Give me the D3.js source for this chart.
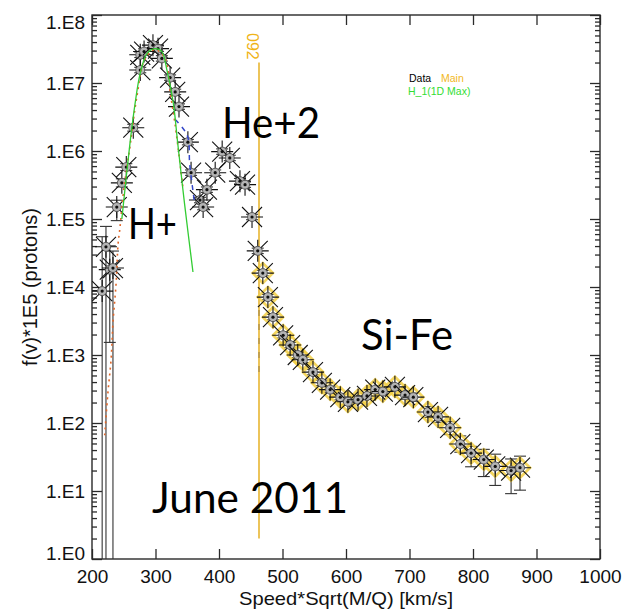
<!DOCTYPE html>
<html>
<head>
<meta charset="utf-8">
<script src="https://cdn.jsdelivr.net/npm/d3@7.9.0/dist/d3.min.js"></script>
<style>
  body { margin: 0; background: #fff; }
  svg { display: block; }
</style>
</head>
<body>
<svg id="chart" width="624" height="613"></svg>
<script>
// measured points: speed*sqrt(M/Q) [km/s] and f(v)*1E5
const speed = [216, 222, 228, 233, 239, 247, 254, 265, 276, 276, 282, 296, 304, 310, 323, 331,
  337, 351, 356, 370, 375, 381, 394, 405, 417, 433, 441, 452, 461, 469, 477, 485,
  501, 512, 524, 532, 548, 562, 575, 591, 603, 619, 633, 646, 658, 677, 693, 706,
  729, 745, 764, 780, 797, 817, 835, 860, 874];
const flux = [8.7e3, 3.9e4, 1.8e4, 1.9e4, 1.5e5, 3.4e5, 5.8e5, 2.2e6, 1.55e7, 2.6e7, 2.9e7, 3.6e7,
  3.2e7, 2.3e7, 1.2e7, 7.4e6, 4.5e6, 1.35e6, 4.8e5, 1.9e5, 1.5e5, 2.7e5, 4.8e5, 9.8e5,
  7.9e5, 3.6e5, 3.2e5, 1.07e5, 3.4e4, 1.6e4, 7.1e3, 3.6e3, 1950, 1400, 1000, 850,
  560, 390, 310, 240, 205, 220, 250, 310, 290, 340, 257, 240,
  145, 123, 85, 49, 36, 29, 23, 20, 22];
// error bar half widths, in decades
const errUp = [0.8, 0.3, 0.35, 0.25, 0.1, 0.06, 0.05, 0.05,
  0.04, 0.04, 0.04, 0.04, 0.04, 0.04, 0.04, 0.04, 0.04, 0.04, 0.04, 0.04,
  0.04, 0.04, 0.04, 0.04, 0.04, 0.04, 0.04, 0.04, 0.04, 0.04, 0.04, 0.04,
  0.04, 0.04, 0.04, 0.04, 0.04, 0.04, 0.04, 0.04, 0.04, 0.04, 0.04, 0.04,
  0.04, 0.04, 0.06, 0.06, 0.08, 0.08, 0.09, 0.12, 0.1, 0.15, 0.18, 0.17, 0.17];
const errDown = [9, 9, 1.07, 9, 0.2, 0.06, 0.05, 0.05,
  0.04, 0.04, 0.04, 0.04, 0.04, 0.04, 0.04, 0.04, 0.04, 0.04, 0.04, 0.04,
  0.04, 0.04, 0.04, 0.04, 0.04, 0.04, 0.04, 0.04, 0.04, 0.04, 0.04, 0.04,
  0.04, 0.04, 0.04, 0.04, 0.04, 0.04, 0.04, 0.04, 0.04, 0.04, 0.04, 0.04,
  0.04, 0.04, 0.06, 0.06, 0.08, 0.08, 0.1, 0.12, 0.2, 0.25, 0.28, 0.34, 0.33];
const mainSpeedMin = 465;

// H_1 (1D Max) fit, green
const fitSpeed = [247, 260, 268, 276, 287, 299, 310, 318, 328, 335, 346, 359];
const fitFlux = [1.0e5, 1.35e6, 5.1e6, 1.4e7, 2.75e7, 3.2e7, 2.9e7, 1.55e7, 5.1e6, 1.3e6, 1.6e5, 1.66e4];
// orange dotted model
const modelSpeed = [220, 225, 230, 233, 238, 241, 244, 250, 260, 271, 283, 299, 315, 323, 331, 343];
const modelFlux = [66, 275, 850, 2950, 1.15e4, 4.2e4, 7.4e4, 2.7e5, 1.2e6, 6.6e6, 2.2e7, 3.1e7, 2.3e7, 7.4e6, 2.4e6, 3.0e5];
// blue dashed segment on the falling side
const blueSpeed = [331, 350, 354, 362];
const blueFlux = [2.9e6, 1.7e6, 6.2e5, 1.6e5];

// vertical marker line
const lineSpeed = 463;
const lineTop = 2.0e7, lineBottom = 2.0;
const lineLabel = "092";
const darkTop = 4.6e3, darkBottom = 4.8e2;

const xTicks = [200, 300, 400, 500, 600, 700, 800, 900, 1000];
const yTicks = [1, 1e1, 1e2, 1e3, 1e4, 1e5, 1e6, 1e7, 1e8];
const yTickLabels = ["1.E0", "1.E1", "1.E2", "1.E3", "1.E4", "1.E5", "1.E6", "1.E7", "1.E8"];

const svg = d3.select("#chart");
const pLeft = 92, pRight = 600, pTop = 15, pBottom = 559;
const x = d3.scaleLinear().domain([200, 1000]).range([pLeft, pRight]);
const y = d3.scaleLog().domain([1, 1e8]).range([pBottom, pTop]);
const axisFont = "'Liberation Sans', Arial, sans-serif";

svg.append("defs").append("clipPath").attr("id", "plot")
  .append("rect").attr("x", pLeft).attr("y", pTop).attr("width", pRight - pLeft).attr("height", pBottom - pTop);

// minor tick values for log axis
let minor = [];
yTicks.slice(0, -1).forEach(d => { for (let k = 2; k < 10; k++) minor.push(d * k); });

function styleAxis(g) {
  g.select(".domain").remove();
  g.selectAll("line").attr("stroke", "#2a2a2a").attr("stroke-width", 1.3);
  g.selectAll("text").attr("font-family", axisFont).attr("font-size", 19).attr("fill", "#111");
}

svg.append("g").attr("transform", `translate(0,${pBottom})`)
  .call(d3.axisBottom(x).tickValues(xTicks).tickFormat(d3.format("d")).tickSize(-10).tickSizeOuter(0).tickPadding(11))
  .call(styleAxis);
svg.append("g").attr("transform", `translate(0,${pTop})`)
  .call(d3.axisTop(x).tickValues(xTicks).tickFormat("").tickSize(-10).tickSizeOuter(0))
  .call(styleAxis);

const yl = svg.append("g").attr("transform", `translate(${pLeft},0)`)
  .call(d3.axisLeft(y).tickValues(yTicks).tickFormat((d, i) => yTickLabels[i]).tickSize(-10).tickSizeOuter(0).tickPadding(7))
  .call(styleAxis);
yl.selectAll("text").filter(d => d === 1e8).attr("dy", "0.72em");
yl.selectAll("text").filter(d => d === 1).attr("dy", "0em");
svg.append("g").attr("transform", `translate(${pLeft},0)`)
  .call(d3.axisLeft(y).tickValues(minor).tickFormat("").tickSize(-5).tickSizeOuter(0))
  .call(styleAxis);
svg.append("g").attr("transform", `translate(${pRight},0)`)
  .call(d3.axisRight(y).tickValues(yTicks).tickFormat("").tickSize(-10).tickSizeOuter(0))
  .call(styleAxis);
svg.append("g").attr("transform", `translate(${pRight},0)`)
  .call(d3.axisRight(y).tickValues(minor).tickFormat("").tickSize(-5).tickSizeOuter(0))
  .call(styleAxis);

svg.append("rect").attr("x", pLeft).attr("y", pTop).attr("width", pRight - pLeft).attr("height", pBottom - pTop)
  .attr("fill", "none").attr("stroke", "#2a2a2a").attr("stroke-width", 1.4);

// axis titles
svg.append("text").attr("x", (pLeft + pRight) / 2).attr("y", 605).attr("text-anchor", "middle")
  .attr("font-family", axisFont).attr("font-size", 19).attr("fill", "#111")
  .attr("textLength", 214).attr("lengthAdjust", "spacingAndGlyphs")
  .text("Speed*Sqrt(M/Q) [km/s]");
svg.append("text").attr("transform", `translate(37,${(pTop + pBottom) / 2}) rotate(-90)`).attr("text-anchor", "middle")
  .attr("font-family", axisFont).attr("font-size", 20).attr("fill", "#111")
  .text("f(v)*1E5 (protons)");

const plot = svg.append("g").attr("clip-path", "url(#plot)");

// vertical line with label
plot.append("line").attr("x1", x(lineSpeed)).attr("x2", x(lineSpeed))
  .attr("y1", y(lineTop)).attr("y2", y(lineBottom))
  .attr("stroke", "#ecc45a").attr("stroke-width", 2);
plot.append("line").attr("x1", x(lineSpeed)).attr("x2", x(lineSpeed))
  .attr("y1", y(darkTop)).attr("y2", y(darkBottom))
  .attr("stroke", "#8a7040").attr("stroke-width", 1.2).attr("stroke-dasharray", "6,8").attr("opacity", 0.7);
svg.append("text").attr("transform", `translate(${x(lineSpeed) - 12},33) rotate(90)`)
  .attr("font-family", axisFont).attr("font-size", 16).attr("fill", "#f0b418")
  .text(lineLabel);

const pts = speed.map((v, i) => ({ v, f: flux[i], up: errUp[i], dn: errDown[i] }));

// error bars
pts.forEach(d => {
  const cx = x(d.v);
  const yHi = y(d.f * Math.pow(10, d.up));
  const yLo = y(d.f / Math.pow(10, d.dn));
  const g = plot.append("g").attr("stroke", "#333").attr("stroke-width", 1.1);
  g.append("line").attr("x1", cx).attr("x2", cx).attr("y1", yHi).attr("y2", yLo);
  g.append("line").attr("x1", cx - 6).attr("x2", cx + 6).attr("y1", yHi).attr("y2", yHi);
  g.append("line").attr("x1", cx - 6).attr("x2", cx + 6).attr("y1", yLo).attr("y2", yLo);
});

// yellow highlight for the Main selection
plot.selectAll(".main").data(pts.filter(d => d.v > mainSpeedMin)).join("path")
  .attr("class", "main")
  .attr("transform", d => `translate(${x(d.v)},${y(d.f)})`)
  .attr("d", "M0,-10L10,0L0,10L-10,0Z")
  .attr("fill", "none").attr("stroke", "#f2cf45").attr("stroke-width", 2.8).attr("opacity", 0.85);

// asterisk markers
const mk = plot.selectAll(".mk").data(pts).join("g")
  .attr("class", "mk")
  .attr("transform", d => `translate(${x(d.v)},${y(d.f)})`);
mk.append("path").attr("d", "M-10,-10L10,10M-10,10L10,-10M-11,0H11M0,-11V11")
  .attr("stroke", "#111").attr("stroke-width", 1.1).attr("fill", "none");
mk.append("circle").attr("r", 4.5).attr("fill", "#b4b4b4").attr("stroke", "#555").attr("stroke-width", 1);
mk.append("circle").attr("r", 1.6).attr("fill", "#111");

// model curves
const line = d3.line().x(d => x(d[0])).y(d => y(d[1])).curve(d3.curveCatmullRom);
plot.append("path").datum(modelSpeed.map((v, i) => [v, modelFlux[i]]))
  .attr("d", line).attr("fill", "none").attr("stroke", "#e0672a").attr("stroke-width", 1.6)
  .attr("stroke-dasharray", "2,4");
plot.append("path").datum(blueSpeed.map((v, i) => [v, blueFlux[i]]))
  .attr("d", line).attr("fill", "none").attr("stroke", "#3346c8").attr("stroke-width", 1.5)
  .attr("stroke-dasharray", "5,5");
plot.append("path").datum(fitSpeed.map((v, i) => [v, fitFlux[i]]))
  .attr("d", line).attr("fill", "none").attr("stroke", "#33cc33").attr("stroke-width", 1.3);

// legend
const legend = svg.append("g").attr("font-family", axisFont).attr("font-size", 10.5);
legend.append("text").attr("x", 409).attr("y", 82).attr("fill", "#000").text("Data");
legend.append("text").attr("x", 441).attr("y", 82).attr("fill", "#f2b81c").text("Main");
legend.append("text").attr("x", 408).attr("y", 95).attr("fill", "#33dd33").text("H_1(1D Max)");

// annotations
const notes = [
  { t: "He+2", x: 222, y: 138, w: 98 },
  { t: "H+", x: 128, y: 239, w: 49 },
  { t: "Si-Fe", x: 361, y: 350, w: 92 },
  { t: "June 2011", x: 152, y: 513, w: 196 }
];
svg.selectAll(".note").data(notes).join("text")
  .attr("class", "note")
  .attr("x", d => d.x).attr("y", d => d.y)
  .attr("textLength", d => d.w).attr("lengthAdjust", "spacingAndGlyphs")
  .attr("font-family", "Lato, 'Open Sans', sans-serif").attr("font-size", 42).attr("fill", "#000")
  .text(d => d.t);
</script>
</body>
</html>
